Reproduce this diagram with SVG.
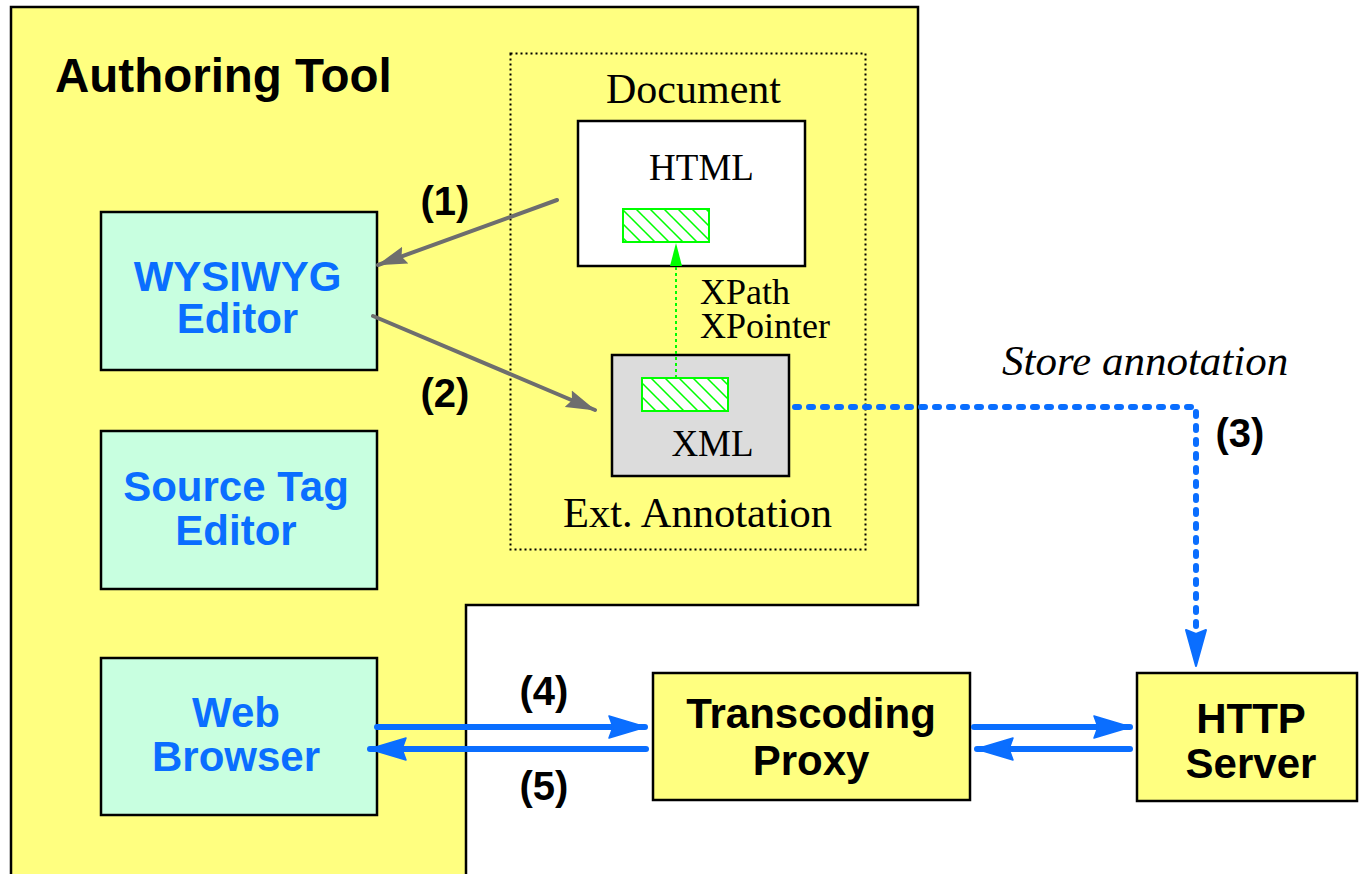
<svg xmlns="http://www.w3.org/2000/svg" width="1359" height="874" viewBox="0 0 1359 874">
<style>
.sans{font-family:"Liberation Sans",Arial,sans-serif;font-weight:bold}
.serif{font-family:"Liberation Serif","Times New Roman",serif}
.blue{fill:#0a6eff}
.tool{fill:#c8ffe0;stroke:#000;stroke-width:2.5}
.yel{fill:#ffff80;stroke:#000;stroke-width:2.5}
.gray{stroke:#6e6e6e;stroke-width:4;fill:none;stroke-linecap:round}
.barrow{stroke:#0a6eff;stroke-width:6;fill:none;stroke-linecap:round}
</style>
<defs>
<pattern id="hatch" patternUnits="userSpaceOnUse" width="14" height="14">
<rect width="14" height="14" fill="#fff"/>
<path d="M-7,0 L7,14 M0,-7 L14,7 M7,0 L21,14 M0,7 L14,21" stroke="#00ff00" stroke-width="1.5"/>
</pattern>
<marker id="ag" markerUnits="userSpaceOnUse" viewBox="0 0 30 20" markerWidth="30" markerHeight="20" refX="29" refY="10" orient="auto">
<path d="M0,1 L30,10 L0,19 L4,10 Z" fill="#6e6e6e"/>
</marker>
<marker id="ab" markerUnits="userSpaceOnUse" viewBox="0 0 38 24" markerWidth="38" markerHeight="24" refX="37" refY="12" orient="auto">
<path d="M1,1 L38,12 L1,23 L5,12 Z" fill="#0a6eff" stroke="#0a6eff" stroke-width="1.5" stroke-linejoin="round"/>
</marker>
</defs>

<g id="authoring-tool">
<polygon points="11,7 918,7 918,605 466,605 466,880 11,880" fill="#ffff80" stroke="#000" stroke-width="2.5"/>
<text class="sans" x="55" y="92" font-size="47.5">Authoring Tool</text>
</g>

<g id="ext-annotation-group">
<rect x="510.5" y="53.5" width="355" height="496" fill="none" stroke="#000" stroke-width="2" stroke-dasharray="2 3"/>
<text class="serif" x="693.5" y="103" font-size="42" text-anchor="middle">Document</text>
<text class="serif" x="697.5" y="527" font-size="42.5" text-anchor="middle">Ext. Annotation</text>
</g>

<g id="html-doc">
<rect x="578" y="121" width="227" height="145" fill="#fff" stroke="#000" stroke-width="2.5"/>
<text class="serif" x="701.5" y="180" font-size="37" text-anchor="middle">HTML</text>
<rect x="623" y="209" width="86" height="33" fill="url(#hatch)" stroke="#00ff00" stroke-width="2"/>
</g>

<g id="xml-annotation">
<rect x="612" y="355" width="177" height="121" fill="#dcdcdc" stroke="#000" stroke-width="2.5"/>
<rect x="642" y="378" width="86" height="33" fill="url(#hatch)" stroke="#00ff00" stroke-width="2"/>
<text class="serif" x="712.5" y="456" font-size="37" text-anchor="middle">XML</text>
</g>

<g id="xpath-label">
<text class="serif" x="700" y="304" font-size="36">XPath</text>
<text class="serif" x="700" y="338" font-size="36">XPointer</text>
</g>

<g id="wysiwyg-editor">
<rect class="tool" x="101" y="212" width="276" height="158"/>
<text class="sans blue" x="237.5" y="291" font-size="42" text-anchor="middle">WYSIWYG</text>
<text class="sans blue" x="237.5" y="333" font-size="42" text-anchor="middle">Editor</text>
</g>

<g id="source-tag-editor">
<rect class="tool" x="101" y="431" width="276" height="158"/>
<text class="sans blue" x="236" y="501" font-size="42" text-anchor="middle">Source Tag</text>
<text class="sans blue" x="236" y="545" font-size="42" text-anchor="middle">Editor</text>
</g>

<g id="web-browser">
<rect class="tool" x="101" y="658" width="276" height="157"/>
<text class="sans blue" x="236" y="727" font-size="42" text-anchor="middle">Web</text>
<text class="sans blue" x="236" y="771" font-size="42" text-anchor="middle">Browser</text>
</g>

<g id="transcoding-proxy">
<rect class="yel" x="653" y="673" width="317" height="127"/>
<text class="sans" x="811" y="728" font-size="42" text-anchor="middle">Transcoding</text>
<text class="sans" x="811" y="775" font-size="42" text-anchor="middle">Proxy</text>
</g>

<g id="http-server">
<rect class="yel" x="1137" y="673" width="220" height="128"/>
<text class="sans" x="1251" y="733" font-size="42" text-anchor="middle">HTTP</text>
<text class="sans" x="1251" y="778" font-size="42" text-anchor="middle">Server</text>
</g>

<g id="connectors">
<line class="gray" x1="557" y1="200" x2="378" y2="265" marker-end="url(#ag)"/>
<line class="gray" x1="373" y1="316" x2="595" y2="410" marker-end="url(#ag)"/>
<line x1="676" y1="378" x2="676" y2="262" stroke="#00ff00" stroke-width="2" stroke-dasharray="3 3"/>
<polygon points="676,243 670,266 682,266" fill="#00ff00"/>
<path d="M795,407 L1196,407 L1196,632" fill="none" stroke="#0a6eff" stroke-width="6" stroke-linecap="round" stroke-dasharray="4 10"/>
<polygon points="1196,666 1186,630 1196,634 1206,630" fill="#0a6eff" stroke="#0a6eff" stroke-width="2" stroke-linejoin="round"/>
<line class="barrow" x1="377" y1="727" x2="645" y2="727" marker-end="url(#ab)"/>
<line class="barrow" x1="646" y1="749" x2="370" y2="749" marker-end="url(#ab)"/>
<line class="barrow" x1="974" y1="727" x2="1130" y2="727" marker-end="url(#ab)"/>
<line class="barrow" x1="1130" y1="749" x2="977" y2="749" marker-end="url(#ab)"/>
</g>

<g id="labels">
<text class="sans" x="445" y="215" font-size="40" text-anchor="middle">(1)</text>
<text class="sans" x="445" y="407" font-size="40" text-anchor="middle">(2)</text>
<text class="sans" x="1240" y="447" font-size="40" text-anchor="middle">(3)</text>
<text class="sans" x="544" y="705" font-size="40" text-anchor="middle">(4)</text>
<text class="sans" x="544" y="800" font-size="40" text-anchor="middle">(5)</text>
<text class="serif" x="1002" y="375" font-size="43" font-style="italic">Store annotation</text>
</g>
</svg>
